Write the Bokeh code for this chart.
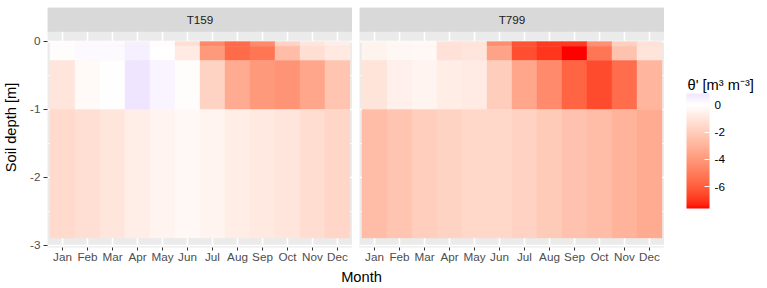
import numpy as np
from bokeh.plotting import figure
from bokeh.layouts import row, column
from bokeh.models import (Range1d, FixedTicker, ColumnDataSource, LinearColorMapper,
                          ColorBar, BoxAnnotation, Label, AllLabels)
from bokeh.transform import transform
from bokeh.embed import file_html
from bokeh.resources import INLINE

# ---------------- data ----------------
months = ["Jan", "Feb", "Mar", "Apr", "May", "Jun", "Jul", "Aug", "Sep", "Oct", "Nov", "Dec"]
layer_top = [0.0, -0.07, -0.28, -1.0]
layer_bottom = [-0.07, -0.28, -1.0, -2.89]
panels = ["T159", "T799"]

t159_l1 = [-0.1, 0.15, 0.2, 0.45, -0.1, -1.3, -4.6, -5.6, -4.5, -1.8, -1.0, -0.7]
t159_l2 = [-0.1, 0.15, 0.2, 0.5, 0.0, -0.8, -4.0, -5.6, -5.2, -2.6, -1.3, -0.9]
t159_l3 = [-1.05, -0.2, -0.05, 0.83, 0.35, -0.1, -1.75, -3.3, -4.0, -4.2, -3.5, -2.3]
t159_l4 = [-1.5, -1.3, -1.0, -0.7, -0.45, -0.3, -0.45, -0.75, -0.9, -1.05, -1.35, -1.65]

t799_l1 = [-0.5, -0.35, -0.3, -1.2, -1.1, -4.4, -6.3, -6.9, -6.9, -4.3, -1.9, -1.2]
t799_l2 = [-0.5, -0.35, -0.3, -1.2, -1.0, -3.6, -6.4, -7.0, -7.6, -5.2, -2.4, -1.1]
t799_l3 = [-1.1, -0.6, -0.45, -0.75, -0.8, -2.0, -3.5, -4.5, -5.8, -6.5, -5.5, -2.9]
t799_l4 = [-2.6, -2.3, -1.95, -1.75, -1.55, -1.55, -1.8, -2.1, -2.4, -2.6, -3.0, -3.3]

panel_values = {
    "T159": [t159_l1, t159_l2, t159_l3, t159_l4],
    "T799": [t799_l1, t799_l2, t799_l3, t799_l4],
}

y_ticks = [0, -1, -2, -3]
y_minor = [-0.5, -1.5, -2.5]
legend_ticks = [0, -2, -4, -6]
legend_title = "\u03b8' [m\u00b3 m\u207b\u00b3]"
x_title = "Month"
y_title = "Soil depth [m]"

FONT = "Liberation Sans"

# ---------------- colour scale (gradient2 in Lab: red - white - blue) ----------------
def srgb_to_lab(rgb):
    c = np.array(rgb, dtype=float) / 255.0
    lin = np.where(c <= 0.04045, c / 12.92, ((c + 0.055) / 1.055) ** 2.4)
    M = np.array([[0.4124564, 0.3575761, 0.1804375],
                  [0.2126729, 0.7151522, 0.0721750],
                  [0.0193339, 0.1191920, 0.9503041]])
    xyz = M @ lin
    wp = np.array([0.95047, 1.0, 1.08883])
    t = xyz / wp
    d = 6 / 29
    f = np.where(t > d ** 3, np.cbrt(t), t / (3 * d * d) + 4 / 29)
    return np.array([116 * f[1] - 16, 500 * (f[0] - f[1]), 200 * (f[1] - f[2])])


def lab_to_hex(lab):
    L, a, b = lab
    fy = (L + 16) / 116
    fx = fy + a / 500
    fz = fy - b / 200
    d = 6 / 29
    f = np.array([fx, fy, fz])
    t = np.where(f > d, f ** 3, 3 * d * d * (f - 4 / 29))
    xyz = t * np.array([0.95047, 1.0, 1.08883])
    Minv = np.array([[3.2404542, -1.5371385, -0.4985314],
                     [-0.9692660, 1.8760108, 0.0415560],
                     [0.0556434, -0.2040259, 1.0572252]])
    lin = np.clip(Minv @ xyz, 0, 1)
    c = np.where(lin <= 0.0031308, 12.92 * lin, 1.055 * lin ** (1 / 2.4) - 0.055)
    c = np.clip(np.round(c * 255), 0, 255).astype(int)
    return "#%02x%02x%02x" % tuple(c)


low_lab = srgb_to_lab((255, 0, 0))
mid_lab = srgb_to_lab((255, 255, 255))
high_lab = srgb_to_lab((0, 0, 255))

all_vals = np.array([v for p in panels for layer in panel_values[p] for v in layer])
vmin, vmax = float(all_vals.min()), float(all_vals.max())
span = max(abs(vmin), abs(vmax))

palette = []
for v in np.linspace(vmin, vmax, 256):
    r = v / (2 * span) + 0.5
    if r <= 0.5:
        u = r / 0.5
        lab = low_lab + u * (mid_lab - low_lab)
    else:
        u = (r - 0.5) / 0.5
        lab = mid_lab + u * (high_lab - mid_lab)
    palette.append(lab_to_hex(lab))

mapper = LinearColorMapper(palette=palette, low=vmin, high=vmax)

# ---------------- layout constants ----------------
FRAME_W = 305
FRAME_H = 240
TOP = 7
BOTTOM = 21
ROW_H = TOP + FRAME_H + BOTTOM      # 268
Y_START = -3.03
Y_END = 0.5
STRIP_BOTTOM = 0.1445


def make_panel(name, first):
    xs, ys, hs, vs = [], [], [], []
    for li, layer in enumerate(panel_values[name]):
        for mi, v in enumerate(layer):
            xs.append(mi + 1)
            ys.append((layer_top[li] + layer_bottom[li]) / 2)
            hs.append(layer_top[li] - layer_bottom[li])
            vs.append(v)
    src = ColumnDataSource(dict(x=xs, y=ys, h=hs, v=vs))

    p = figure(x_range=Range1d(0.4, 12.6), y_range=Range1d(Y_START, Y_END),
               frame_width=FRAME_W, frame_height=FRAME_H,
               min_border_left=47 if first else 7, min_border_right=0,
               min_border_top=TOP, min_border_bottom=BOTTOM,
               output_backend="svg", toolbar_location=None, title=None,
               background_fill_color="#EBEBEB", border_fill_color="white",
               outline_line_color=None,
               y_axis_location="left" if first else None)

    p.rect(x="x", y="y", width=1, height="h", source=src,
           fill_color=transform("v", mapper), line_color=transform("v", mapper),
           line_width=0.4)

    # grid
    p.xgrid.ticker = FixedTicker(ticks=list(range(1, 13)))
    p.xgrid.grid_line_color = "white"
    p.xgrid.grid_line_width = 1.6
    p.ygrid.ticker = FixedTicker(ticks=y_ticks, minor_ticks=y_minor)
    p.ygrid.grid_line_color = "white"
    p.ygrid.grid_line_width = 1.6
    p.ygrid.minor_grid_line_color = "white"
    p.ygrid.minor_grid_line_width = 0.8

    # x axis
    xa = p.xaxis[0]
    xa.ticker = FixedTicker(ticks=list(range(1, 13)))
    xa.major_label_overrides = {i + 1: m for i, m in enumerate(months)}
    xa.axis_line_color = None
    xa.major_tick_in = 0
    xa.major_tick_out = 3
    xa.major_tick_line_color = "#333333"
    xa.minor_tick_line_color = None
    xa.major_label_text_color = "#4D4D4D"
    xa.major_label_text_font = FONT
    xa.major_label_text_font_size = "11.7px"
    xa.major_label_standoff = -1

    if first:
        ya = p.yaxis[0]
        ya.ticker = FixedTicker(ticks=y_ticks)
        ya.major_label_overrides = {t: str(t) for t in y_ticks}
        ya.axis_line_color = None
        ya.major_tick_in = 0
        ya.major_tick_out = 4
        ya.major_tick_line_color = "#333333"
        ya.minor_tick_line_color = None
        ya.major_label_text_color = "#4D4D4D"
        ya.major_label_text_font = FONT
        ya.major_label_text_font_size = "11.7px"
        ya.major_label_standoff = 3
        ya.axis_label = y_title
        ya.axis_label_text_font = FONT
        ya.axis_label_text_font_size = "14.67px"
        ya.axis_label_text_font_style = "normal"
        ya.axis_label_text_color = "black"
        ya.axis_label_standoff = 8

    # facet strip
    strip = BoxAnnotation(bottom=STRIP_BOTTOM, fill_color="#D9D9D9", fill_alpha=1.0,
                          line_color=None)
    p.add_layout(strip)
    p.add_layout(Label(x=6.5, y=(STRIP_BOTTOM + Y_END) / 2, text=name,
                       text_align="center", text_baseline="middle",
                       text_font=FONT, text_font_size="11.7px", text_color="#1A1A1A"))
    return p


p1 = make_panel("T159", True)
p2 = make_panel("T799", False)

# ---------------- legend figure ----------------
LEG_W = 767 - 47 - FRAME_W - 7 - FRAME_W   # 103
p4 = figure(width=LEG_W, height=ROW_H, x_range=Range1d(0, LEG_W), y_range=Range1d(ROW_H, 0),
            min_border=0, output_backend="svg", toolbar_location=None, title=None,
            outline_line_color=None, x_axis_location=None, y_axis_location=None,
            background_fill_color="white", border_fill_color="white")
p4.xgrid.visible = False
p4.ygrid.visible = False

cb = ColorBar(color_mapper=mapper, ticker=FixedTicker(ticks=legend_ticks),
              major_label_overrides={t: str(t) for t in legend_ticks},
              major_label_policy=AllLabels(),
              orientation="vertical", width=23, height=115,
              location=(22, 39), margin=0, padding=0,
              major_label_text_font=FONT, major_label_text_font_size="11.7px",
              major_label_text_color="black", label_standoff=5,
              major_tick_line_color="white", major_tick_in=5, major_tick_out=0,
              minor_tick_line_color=None, bar_line_color=None, border_line_color=None,
              background_fill_alpha=0)
p4.add_layout(cb, "center")
p4.add_layout(Label(x=23, y=86, text=legend_title, text_align="left",
                    text_baseline="alphabetic", text_font=FONT,
                    text_font_size="14.67px", text_color="black"))

# ---------------- x title figure ----------------
X_TITLE_H = 288 - ROW_H
p3 = figure(width=767, height=X_TITLE_H, x_range=Range1d(0, 767), y_range=Range1d(0, X_TITLE_H),
            min_border=0, output_backend="svg", toolbar_location=None, title=None,
            outline_line_color=None, x_axis_location=None, y_axis_location=None)
p3.xgrid.visible = False
p3.ygrid.visible = False
p3.add_layout(Label(x=361, y=12, text=x_title, text_align="center",
                    text_baseline="middle",
                    text_font=FONT, text_font_size="14.67px", text_color="black"))

layout = column(row(p1, p2, p4, spacing=0), p3, spacing=0)

open("out.html", "w").write(file_html(layout, INLINE))
